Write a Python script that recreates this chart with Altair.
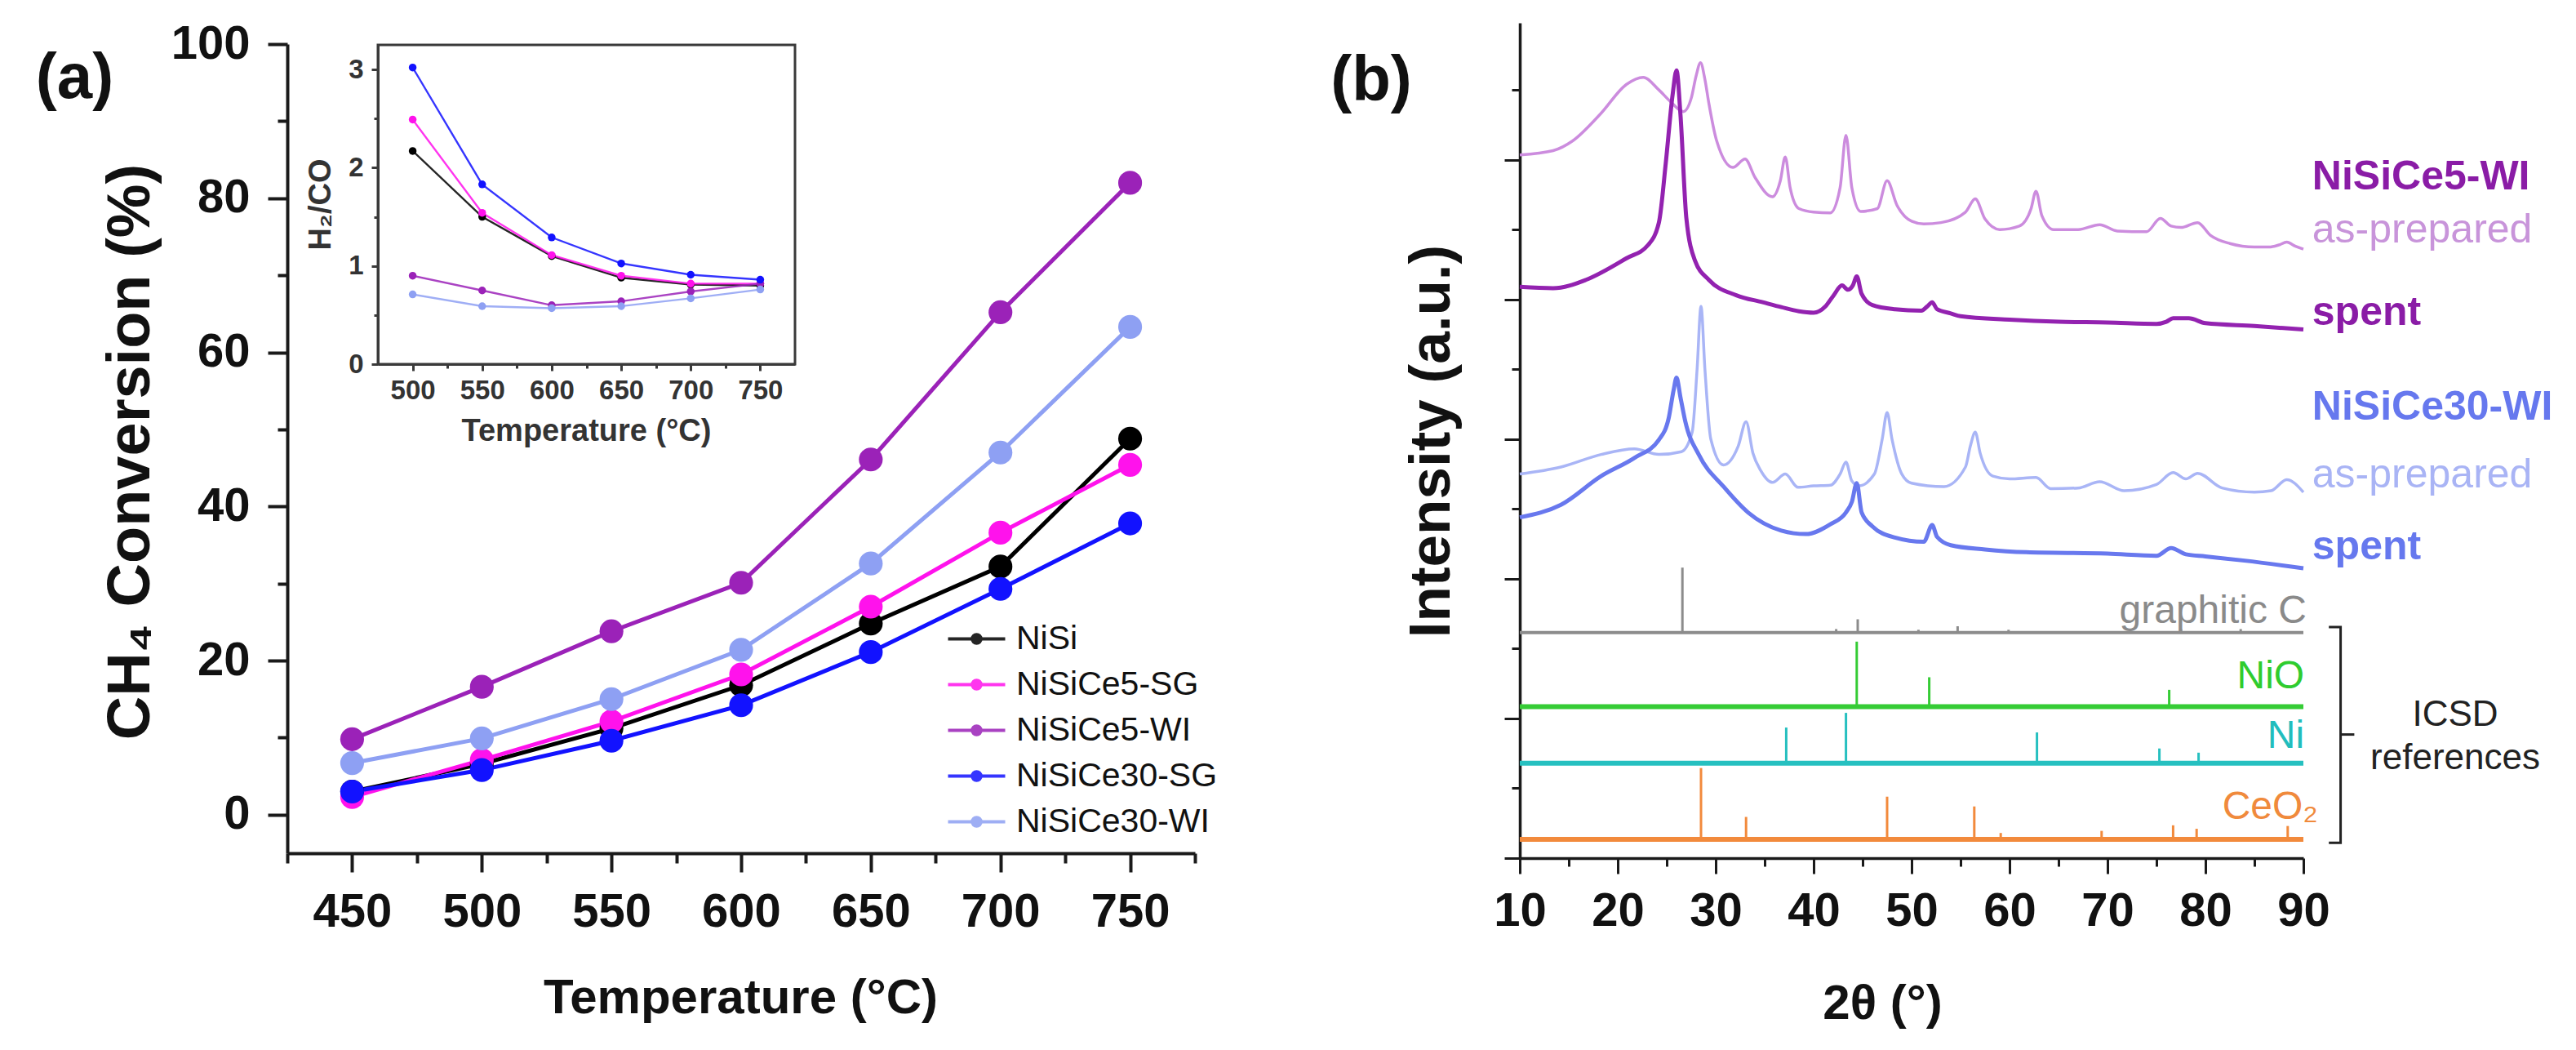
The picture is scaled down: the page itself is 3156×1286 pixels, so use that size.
import altair as alt
import pandas as pd

FONT = "Liberation Sans"
W, H = 3140, 1270
AX = "#1a1a1a"

# ---------------- panel (a): CH4 conversion ----------------
temps = [450, 500, 550, 600, 650, 700, 750]
series_names = ["NiSi", "NiSiCe5-SG", "NiSiCe5-WI", "NiSiCe30-SG", "NiSiCe30-WI"]
series_colors = ["#000000", "#ff12ec", "#9b22b8", "#1212ff", "#8ea0f3"]
conv_nisi = [3.0, 6.6, 11.2, 16.8, 24.8, 32.2, 48.8]
conv_ce5_sg = [2.3, 7.1, 12.1, 18.2, 27.0, 36.6, 45.4]
conv_ce5_wi = [9.8, 16.6, 23.8, 30.1, 46.1, 65.2, 82.0]
conv_ce30_sg = [3.0, 5.8, 9.6, 14.2, 21.1, 29.3, 37.8]
conv_ce30_wi = [6.7, 9.9, 15.0, 21.4, 32.6, 47.0, 63.3]
x_ticks_a = [450, 500, 550, 600, 650, 700, 750]
x_minor_a = [425, 475, 525, 575, 625, 675, 725, 775]
y_ticks_a = [0, 20, 40, 60, 80, 100]
y_minor_a = [10, 30, 50, 70, 90]

# ---------------- inset: H2/CO ----------------
inset_temps = [500, 550, 600, 650, 700, 750]
h2co_nisi = [2.17, 1.50, 1.10, 0.88, 0.81, 0.80]
h2co_ce5_sg = [2.49, 1.54, 1.11, 0.90, 0.82, 0.82]
h2co_ce5_wi = [0.90, 0.75, 0.60, 0.64, 0.74, 0.82]
h2co_ce30_sg = [3.02, 1.83, 1.29, 1.025, 0.91, 0.86]
h2co_ce30_wi = [0.71, 0.59, 0.57, 0.59, 0.67, 0.76]
x_ticks_i = [500, 550, 600, 650, 700, 750]
x_minor_i = [525, 575, 625, 675, 725]
y_ticks_i = [0, 1, 2, 3]
y_minor_i = [0.5, 1.5, 2.5]

# ---------------- panel (b): XRD (2theta, offset intensity) ----------------
ap5 = [(10, 10.07), (13.4, 10.13), (15.4, 10.27), (18.2, 10.65), (20.9, 11.08), (22.6, 11.18),
       (24.2, 11.0), (25.4, 10.83), (26.7, 10.69), (27.5, 10.88), (28.0, 11.2), (28.45, 11.39),
       (28.9, 11.15), (29.3, 10.81), (30.1, 10.27), (31.75, 9.89), (33.0, 10.01), (34.0, 9.75),
       (35.8, 9.47), (36.6, 9.7), (37.1, 10.04), (37.6, 9.6), (38.5, 9.3), (40.0, 9.25),
       (41.7, 9.24), (42.7, 9.6), (43.3, 10.35), (43.9, 9.6), (44.8, 9.26), (46.5, 9.3),
       (47.5, 9.70), (48.5, 9.35), (50.0, 9.12), (51.25, 9.08), (53.0, 9.1), (55.5, 9.25),
       (56.5, 9.44), (57.5, 9.15), (59.0, 9.0), (61.0, 9.05), (62.2, 9.3), (62.7, 9.55),
       (63.3, 9.2), (64.5, 9.0), (67.0, 9.0), (69.2, 9.07), (71.0, 8.98), (74.0, 8.97),
       (75.4, 9.16), (76.5, 9.05), (77.5, 9.03), (79.2, 9.1), (80.5, 8.92), (82.5, 8.8),
       (85.0, 8.75), (86.5, 8.75), (87.5, 8.78), (88.3, 8.82), (89.2, 8.76), (90.0, 8.72)]
sp5 = [(10, 8.18), (13.4, 8.16), (16.75, 8.28), (20.9, 8.59), (23.1, 8.78), (24.2, 9.1),
       (24.9, 9.95), (25.6, 10.93), (26.0, 11.28), (26.4, 10.65), (27.0, 9.17), (27.9, 8.55),
       (29.3, 8.28), (32.1, 8.06), (34.8, 7.96), (36.7, 7.89), (38.5, 7.83), (40.0, 7.81),
       (41.2, 7.9), (42.0, 8.05), (42.9, 8.2), (43.5, 8.14), (44.0, 8.2), (44.4, 8.33),
       (44.9, 8.08), (46.0, 7.92), (48.3, 7.86), (51.0, 7.84), (51.6, 7.9), (52.1, 7.96),
       (52.6, 7.86), (54.0, 7.8), (55.0, 7.76), (60.0, 7.71), (65.0, 7.68), (70.0, 7.67),
       (75.0, 7.65), (76.0, 7.68), (76.7, 7.73), (78.3, 7.73), (80.0, 7.66), (85.0, 7.62),
       (90.0, 7.57)]
ap30 = [(10, 5.5), (14.2, 5.6), (18.3, 5.78), (21.7, 5.86), (24.2, 5.78), (26.5, 5.82),
        (27.6, 6.1), (28.1, 7.0), (28.5, 7.9), (28.9, 7.0), (29.5, 6.0), (30.8, 5.63),
        (32.3, 5.9), (33.1, 6.25), (33.8, 5.8), (34.6, 5.55), (35.8, 5.38), (37.1, 5.5),
        (38.4, 5.31), (40.0, 5.33), (41.7, 5.34), (42.7, 5.5), (43.3, 5.67), (43.9, 5.4),
        (44.6, 5.33), (46.2, 5.5), (47.0, 6.0), (47.5, 6.38), (48.0, 6.0), (49.0, 5.5),
        (50.0, 5.37), (53.3, 5.32), (55.5, 5.6), (56.0, 5.9), (56.5, 6.1), (57.0, 5.8),
        (58.3, 5.47), (60.0, 5.43), (62.7, 5.45), (64.2, 5.29), (67.0, 5.3), (69.2, 5.39),
        (71.7, 5.26), (75.0, 5.35), (76.7, 5.52), (78.0, 5.43), (79.2, 5.51), (81.7, 5.3),
        (85.0, 5.24), (86.7, 5.26), (88.3, 5.42), (90.0, 5.24)]
sp30 = [(10, 4.88), (14.2, 5.06), (18.3, 5.47), (21.7, 5.73), (24.2, 5.99), (25.2, 6.3),
        (25.7, 6.7), (26.0, 6.88), (26.4, 6.6), (26.9, 6.25), (28.3, 5.77), (30.8, 5.32),
        (33.3, 4.95), (36.7, 4.69), (39.2, 4.64), (41.7, 4.78), (43.3, 4.95), (43.9, 5.1),
        (44.4, 5.37), (44.9, 4.95), (46.0, 4.75), (48.3, 4.59), (51.25, 4.53), (52.1, 4.77),
        (52.6, 4.6), (54.0, 4.48), (57.5, 4.42), (61.7, 4.38), (70.0, 4.36), (75.0, 4.33),
        (76.5, 4.44), (78.0, 4.35), (80.0, 4.32), (84.0, 4.26), (90.0, 4.15)]
curve_names = ["ap5", "sp5", "ap30", "sp30"]
curve_points = [ap5, sp5, ap30, sp30]
curve_colors = ["#cc8cde", "#9322b0", "#a9b5f6", "#6878ee"]
curve_widths = [3.5, 5, 3.5, 5]

ref_names = ["graphitic C", "NiO", "Ni", "CeO2"]
ref_base = [3.23, 2.17, 1.36, 0.27]
ref_colors = ["#8c8c8c", "#35cc35", "#26c0c0", "#f28a3c"]
ref_line_widths = [4, 6, 6, 6]
graphc_tt = [26.6, 42.3, 44.5, 50.7, 54.7, 59.9, 77.5, 83.6]
graphc_top = [4.16, 3.28, 3.42, 3.27, 3.32, 3.27, 3.28, 3.28]
nio_tt = [44.4, 51.8, 76.3]
nio_top = [3.10, 2.59, 2.41]
ni_tt = [37.2, 43.3, 62.8, 75.3, 79.3]
ni_top = [1.87, 2.08, 1.80, 1.57, 1.51]
ceo2_tt = [28.5, 33.1, 47.5, 56.4, 59.1, 69.4, 76.7, 79.1, 88.4]
ceo2_top = [1.29, 0.59, 0.88, 0.74, 0.36, 0.39, 0.47, 0.42, 0.46]
x_ticks_b = [10, 20, 30, 40, 50, 60, 70, 80, 90]
x_minor_b = [15, 25, 35, 45, 55, 65, 75, 85]
y_ticks_b = [0, 2, 4, 6, 8, 10]
y_minor_b = [1, 3, 5, 7, 9, 11]

# annotation texts of panel (b): (text, 2theta, offset, color, weight, size)
labels_left = [("NiSiCe5-WI", 90.9, 9.58, "#8a1ca6", "bold", 50),
               ("as-prepared", 90.9, 8.82, "#c894da", "normal", 50),
               ("spent", 90.9, 7.64, "#8a1ca6", "bold", 50),
               ("NiSiCe30-WI", 90.9, 6.28, "#6678ee", "bold", 50),
               ("as-prepared", 90.9, 5.31, "#a9b4f5", "normal", 50),
               ("spent", 90.9, 4.28, "#6678ee", "bold", 50)]
labels_right = [("graphitic C", 90.33, 3.37, "#8a8a8a", "normal", 48),
                ("NiO", 90.1, 2.43, "#2fcc2f", "normal", 48),
                ("Ni", 90.1, 1.58, "#22bdbd", "normal", 48),
                ("CeO\u2082", 91.5, 0.56, "#f08a3c", "normal", 48)]
labels_center = [("ICSD", 105.5, 2.05, "#222222", "normal", 44),
                 ("references", 105.5, 1.43, "#222222", "normal", 44)]
bracket = [("b", 0, 92.6, 3.31), ("b", 1, 93.8, 3.31), ("b", 2, 93.8, 0.22), ("b", 3, 92.6, 0.22),
           ("n", 0, 93.8, 1.77), ("n", 1, 95.2, 1.77)]

# ---------------- scales (pixel ranges inside one canvas) ----------------
sx_a = alt.Scale(domain=[425, 775], range=[344, 1456], nice=False, zero=False)
sy_a = alt.Scale(domain=[-5, 100], range=[1037, 46], nice=False, zero=False)
sx_i = alt.Scale(domain=[475, 775], range=[455, 966], nice=False, zero=False)
sy_i = alt.Scale(domain=[0, 3.25], range=[438, 47], nice=False, zero=False)
sx_b = alt.Scale(domain=[10, 90], range=[1854, 2814], nice=False, zero=False)
sy_b = alt.Scale(domain=[0, 11.96], range=[1043, 20], nice=False, zero=False)


def axis(orient, offset, values, tick, tw, dw, lsize=None, lpad=0, title=None, tsize=0,
         tx=0, ty=0, angle=0, labels=True, domain=True, color=AX):
    kw = dict(orient=orient, offset=offset, values=values, grid=False, ticks=True,
              tickSize=tick, tickWidth=tw, tickColor=color, domain=domain,
              labelFlush=False, labelOverlap=False)
    if domain:
        kw.update(domainColor=color, domainWidth=dw)
    if labels:
        kw.update(labels=True, labelFont=FONT, labelFontSize=lsize, labelFontWeight="bold",
                  labelColor="#111111" if color == AX else "#333333", labelPadding=lpad)
    else:
        kw.update(labels=False)
    if title:
        kw.update(title=title, titleFont=FONT, titleFontSize=tsize, titleFontWeight="bold",
                  titleColor="#111111" if color == AX else "#333333", titleX=tx, titleY=ty,
                  titleAngle=angle, titleAlign="center", titleBaseline="middle")
    else:
        kw.update(title=None)
    return alt.Axis(**kw)


def minor_layer(values, channel, scale, ax):
    df = pd.DataFrame({"v": values})
    enc = alt.X("v:Q", scale=scale, axis=ax) if channel == "x" else alt.Y("v:Q", scale=scale, axis=ax)
    return alt.Chart(df).mark_point(opacity=0).encode(**{channel: enc})


layers = []

# ---------------- panel (a) ----------------
conv_lists = [conv_nisi, conv_ce5_sg, conv_ce5_wi, conv_ce30_sg, conv_ce30_wi]
conv_df = pd.DataFrame([{"series": s, "T": t, "conv": v}
                        for s, vals in zip(series_names, conv_lists)
                        for t, v in zip(temps, vals)])

ax_x_a = axis("bottom", 1037 - H, x_ticks_a, 23, 4, 4, 58, 20, "Temperature (°C)", 60, 899, 177, 0)
ax_y_a = axis("left", -344, y_ticks_a, 24, 4, 4, 58, 22, "CH\u2084  Conversion (%)", 74, -192, 545, 270)


def circ(r):
    return f"M{r},0A{r},{r},0,1,1,{-r},0A{r},{r},0,1,1,{r},0"


SYM = "M-2,0L2,0" + circ(0.30) + circ(0.18) + circ(0.06)
legend_a = alt.Legend(orient="none", legendX=1168, legendY=754, title=None, symbolType=SYM,
                      symbolSize=1225, symbolStrokeWidth=4, labelFont=FONT, labelFontSize=41,
                      labelColor="#111111", labelOffset=28, rowPadding=14, padding=0, labelLimit=400)

color_scale = alt.Scale(domain=series_names, range=series_colors)
layers.append(alt.Chart(conv_df).mark_line(strokeWidth=5).encode(
    x=alt.X("T:Q", scale=sx_a, axis=ax_x_a),
    y=alt.Y("conv:Q", scale=sy_a, axis=ax_y_a),
    color=alt.Color("series:N", scale=color_scale, legend=legend_a),
))
layers.append(alt.Chart(conv_df).mark_circle(size=850, opacity=1).encode(
    x=alt.X("T:Q", scale=sx_a, axis=None),
    y=alt.Y("conv:Q", scale=sy_a, axis=None),
    fill=alt.Fill("series:N", scale=color_scale, legend=None),
))
layers.append(alt.Chart(pd.DataFrame({"txt": ["(a)"], "T": [343.0], "conv": [95.4]})).mark_text(
    font=FONT, fontSize=78, fontWeight="bold", align="center", baseline="middle", color="#111111"
).encode(x=alt.X("T:Q", scale=sx_a, axis=None), y=alt.Y("conv:Q", scale=sy_a, axis=None), text="txt:N"))
layers.append(minor_layer(x_minor_a, "x", sx_a, axis("bottom", 1037 - H, x_minor_a, 12, 4, 4, labels=False, domain=False)))
layers.append(minor_layer(y_minor_a, "y", sy_a, axis("left", -344, y_minor_a, 12, 4, 4, labels=False, domain=False)))

# ---------------- inset ----------------
h2co_lists = [h2co_nisi, h2co_ce5_sg, h2co_ce5_wi, h2co_ce30_sg, h2co_ce30_wi]
inset_df = pd.DataFrame([{"series": s, "col": c, "Ti": t, "r": v}
                         for s, c, vals in zip(series_names, series_colors, h2co_lists)
                         for t, v in zip(inset_temps, vals)])
IC = "#3a3a3a"
ax_x_i = axis("bottom", 438 - H, x_ticks_i, 8, 3, 3, 33, 8, "Temperature (°C)", 38, 710, 82, 0, color=IC)
ax_y_i = axis("left", -455, y_ticks_i, 8, 3, 3, 33, 10, "H\u2082/CO", 38, -70, 242, 270, color=IC)
layers.append(alt.Chart(pd.DataFrame({"x0": [475], "x1": [775], "y0": [0.0], "y1": [3.25]})).mark_rect(
    fill="white", fillOpacity=0, stroke=IC, strokeWidth=3
).encode(x=alt.X("x0:Q", scale=sx_i, axis=ax_x_i), x2="x1:Q",
         y=alt.Y("y0:Q", scale=sy_i, axis=ax_y_i), y2="y1:Q"))
layers.append(alt.Chart(inset_df).mark_line(strokeWidth=2.4, opacity=0.85).encode(
    x=alt.X("Ti:Q", scale=sx_i, axis=None), y=alt.Y("r:Q", scale=sy_i, axis=None),
    color=alt.Color("col:N", scale=None), detail="series:N"))
layers.append(alt.Chart(inset_df).mark_circle(size=90, opacity=1).encode(
    x=alt.X("Ti:Q", scale=sx_i, axis=None), y=alt.Y("r:Q", scale=sy_i, axis=None),
    color=alt.Color("col:N", scale=None)))
layers.append(minor_layer(x_minor_i, "x", sx_i, axis("bottom", 438 - H, x_minor_i, 5, 3, 3, labels=False, domain=False, color=IC)))
layers.append(minor_layer(y_minor_i, "y", sy_i, axis("left", -455, y_minor_i, 5, 3, 3, labels=False, domain=False, color=IC)))

# ---------------- panel (b) ----------------
ax_x_b = axis("bottom", 1043 - H, x_ticks_b, 19, 3, 3.5, 58, 17, "2\u03b8 (°)", 60, 2298, 178, 0)
ax_y_b = alt.Axis(orient="left", offset=-1854, values=y_ticks_b, grid=False, ticks=True, tickSize=19,
                  tickWidth=3, tickColor=AX, domain=True, domainColor=AX, domainWidth=3.5, labels=False,
                  title="Intensity (a.u.)", titleFont=FONT, titleFontSize=71, titleFontWeight="bold",
                  titleColor="#111111", titleX=-108, titleY=532, titleAngle=270, titleAlign="center",
                  titleBaseline="middle")

bx = alt.X("tt:Q", scale=sx_b, axis=None)
by = alt.Y("u:Q", scale=sy_b, axis=None)

base_df = pd.DataFrame({"name": ref_names, "x0": [10] * 4, "x1": [90] * 4, "u": ref_base,
                        "color": ref_colors, "w": ref_line_widths})
layers.append(alt.Chart(base_df).mark_rule().encode(
    x=alt.X("x0:Q", scale=sx_b, axis=ax_x_b), x2="x1:Q", y=alt.Y("u:Q", scale=sy_b, axis=ax_y_b),
    color=alt.Color("color:N", scale=None), strokeWidth=alt.StrokeWidth("w:Q", scale=None)))

stick_rows = []
for base, col, tts, tops in zip(ref_base, ref_colors, [graphc_tt, nio_tt, ni_tt, ceo2_tt],
                                [graphc_top, nio_top, ni_top, ceo2_top]):
    for t, tp in zip(tts, tops):
        stick_rows.append({"tt": t, "u": base, "top": tp, "color": col})
layers.append(alt.Chart(pd.DataFrame(stick_rows)).mark_rule(strokeWidth=3).encode(
    x=bx, y=by, y2="top:Q", color=alt.Color("color:N", scale=None)))

for nm, pts, col, wd in zip(curve_names, curve_points, curve_colors, curve_widths):
    df = pd.DataFrame({"tt": [p[0] for p in pts], "u": [p[1] for p in pts]})
    layers.append(alt.Chart(df).mark_line(color=col, strokeWidth=wd, interpolate="monotone").encode(x=bx, y=by))

br_df = pd.DataFrame(bracket, columns=["seg", "ord", "tt", "u"])
layers.append(alt.Chart(br_df).mark_line(color="#222222", strokeWidth=3).encode(
    x=bx, y=by, detail="seg:N", order="ord:Q"))

for group, align, base in [(labels_left, "left", "alphabetic"), (labels_right, "right", "alphabetic"),
                           (labels_center, "center", "middle")]:
    for txt, t, u, col, wt, fs in group:
        df = pd.DataFrame({"txt": [txt], "tt": [t], "u": [u]})
        layers.append(alt.Chart(df).mark_text(font=FONT, fontSize=fs, fontWeight=wt, color=col,
                                              align=align, baseline=base).encode(x=bx, y=by, text="txt:N"))

layers.append(alt.Chart(pd.DataFrame({"txt": ["(b)"], "tt": [-5.17], "u": [11.12]})).mark_text(
    font=FONT, fontSize=78, fontWeight="bold", align="center", baseline="middle", color="#111111"
).encode(x=bx, y=by, text="txt:N"))
layers.append(minor_layer(x_minor_b, "x", sx_b, axis("bottom", 1043 - H, x_minor_b, 10, 3, 3, labels=False, domain=False)))
layers.append(minor_layer(y_minor_b, "y", sy_b, axis("left", -1854, y_minor_b, 10, 3, 3, labels=False, domain=False)))

chart = alt.layer(*layers).resolve_scale(
    x="independent", y="independent"
).properties(width=W, height=H, autosize="none", padding=0, background="white").configure_view(strokeWidth=0)

chart.save("out.html", embed_options={"renderer": "svg", "actions": False})
